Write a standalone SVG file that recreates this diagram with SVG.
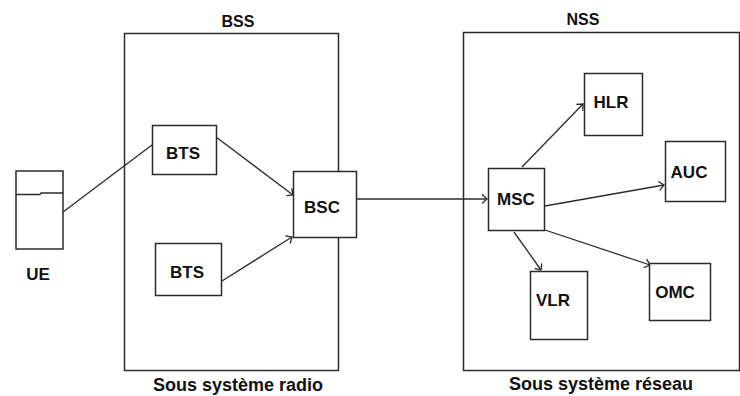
<svg xmlns="http://www.w3.org/2000/svg" width="740" height="396" viewBox="0 0 740 396">
  <style>
    .box { fill: #ffffff; stroke: #2b2b2b; stroke-width: 1.5; }
    .frame { fill: none; stroke: #2b2b2b; stroke-width: 1.5; }
    .link { fill: none; stroke: #2b2b2b; stroke-width: 1.3; }
    .lbl { font-family: "Liberation Sans", Arial, sans-serif; font-weight: bold; font-size: 17px; fill: #111111; text-anchor: middle; }
    .head { font-size: 16px; }
    .foot { font-size: 18px; }
  </style>
  <defs>
    <marker id="arrow" markerWidth="12" markerHeight="12" refX="10" refY="6" orient="auto" markerUnits="userSpaceOnUse">
      <polyline points="5,1.5 10,6 5,10.5" fill="none" stroke="#2b2b2b" stroke-width="1.3"/>
    </marker>
  </defs>

  <rect width="740" height="396" fill="#ffffff"/>

  <!-- Subsystem frames -->
  <g id="bss">
    <rect class="frame" x="124.5" y="33.5" width="214" height="337"/>
    <text class="lbl head" x="238" y="27">BSS</text>
    <text class="lbl foot" x="238" y="391">Sous système radio</text>
  </g>
  <g id="nss">
    <rect class="frame" x="463.5" y="32.5" width="276" height="338"/>
    <text class="lbl head" x="583" y="25">NSS</text>
    <text class="lbl foot" x="601" y="390">Sous système réseau</text>
  </g>

  <!-- Connectors -->
  <g id="connectors">
    <line class="link" x1="63" y1="212" x2="152" y2="145"/>
    <line class="link" x1="216" y1="137" x2="293" y2="195" marker-end="url(#arrow)"/>
    <line class="link" x1="222" y1="281" x2="292" y2="237" marker-end="url(#arrow)"/>
    <line class="link" x1="356" y1="199" x2="487" y2="199" marker-end="url(#arrow)"/>
    <line class="link" x1="522" y1="167" x2="583" y2="104" marker-end="url(#arrow)"/>
    <line class="link" x1="545" y1="206" x2="664" y2="185" marker-end="url(#arrow)"/>
    <line class="link" x1="514" y1="232" x2="541" y2="270" marker-end="url(#arrow)"/>
    <line class="link" x1="545" y1="230" x2="650" y2="265" marker-end="url(#arrow)"/>
  </g>

  <!-- UE terminal -->
  <g id="ue">
    <rect class="box" x="16" y="171" width="47" height="78"/>
    <polyline class="link" points="16,194.5 40,194.5 41,193 63,193"/>
    <text class="lbl" x="38" y="280">UE</text>
  </g>

  <!-- BSS nodes -->
  <g id="bts1">
    <rect class="box" x="152.5" y="125.5" width="64" height="49"/>
    <text class="lbl" x="183" y="159">BTS</text>
  </g>
  <g id="bts2">
    <rect class="box" x="155.5" y="243.5" width="66" height="52"/>
    <text class="lbl" x="187" y="278">BTS</text>
  </g>
  <g id="bsc">
    <rect class="box" x="293.5" y="171.5" width="63" height="66"/>
    <text class="lbl" x="322" y="213">BSC</text>
  </g>

  <!-- NSS nodes -->
  <g id="msc">
    <rect class="box" x="488.5" y="168.5" width="56" height="62"/>
    <text class="lbl" x="516" y="205">MSC</text>
  </g>
  <g id="hlr">
    <rect class="box" x="584.5" y="73.5" width="58" height="62"/>
    <text class="lbl" x="611" y="108">HLR</text>
  </g>
  <g id="auc">
    <rect class="box" x="665.5" y="141.5" width="60" height="60"/>
    <text class="lbl" x="689" y="178">AUC</text>
  </g>
  <g id="vlr">
    <rect class="box" x="530.5" y="271.5" width="57" height="68"/>
    <text class="lbl" x="553" y="306">VLR</text>
  </g>
  <g id="omc">
    <rect class="box" x="649.5" y="263.5" width="61" height="57"/>
    <text class="lbl" x="675" y="298">OMC</text>
  </g>
</svg>
